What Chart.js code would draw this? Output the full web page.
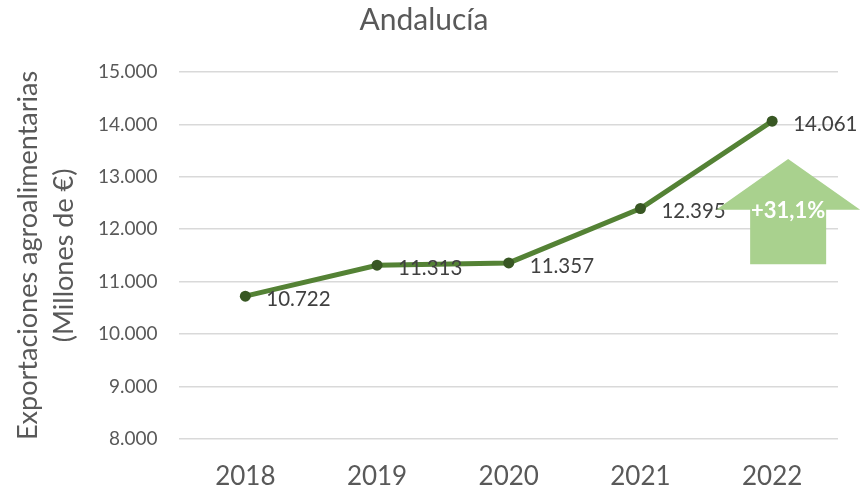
<!DOCTYPE html>
<html>
<head>
<meta charset="utf-8">
<script src="https://cdn.jsdelivr.net/npm/chart.js@4/dist/chart.umd.min.js"></script>
<style>
  html, body { margin: 0; padding: 0; background: #fff; }
  #wrap { width: 867px; height: 492px; }
</style>
</head>
<body>
<div id="wrap"><canvas id="chart"></canvas></div>
<script>
"use strict";

// Data
const YEARS = ["2018", "2019", "2020", "2021", "2022"];
const EXPORTS = [10722, 11313, 11357, 12395, 14061];
const Y_TICKS = [8000, 9000, 10000, 11000, 12000, 13000, 14000, 15000];
const GROWTH_LABEL = "+31,1%";

const FONT = "Lato, 'Open Sans', sans-serif";

function fmt(n) {
    return String(n).replace(/\B(?=(\d{3})+(?!\d))/g, ".");
}

// Labels to the right of each point
const pointLabels = {
    id: "pointLabels",
    afterDatasetsDraw(chart) {
        const ctx = chart.ctx;
        const meta = chart.getDatasetMeta(0);
        ctx.save();
        ctx.font = "20.5px " + FONT;
        ctx.fillStyle = "#404040";
        ctx.textAlign = "left";
        ctx.textBaseline = "middle";
        meta.data.forEach(function(pt, i) {
            ctx.fillText(fmt(EXPORTS[i]), pt.x + 21, pt.y + 3);
        });
        ctx.restore();
    }
};

// Big green arrow with growth text
const growthArrow = {
    id: "growthArrow",
    afterDraw(chart) {
        const ctx = chart.ctx;
        const xs = chart.scales.x;
        const ys = chart.scales.y;
        const cx = xs.getPixelForValue(YEARS.length - 1) + 16;
        const tip = ys.getPixelForValue(13340);
        const base = ys.getPixelForValue(12370);
        const bottom = ys.getPixelForValue(11330);
        ctx.save();
        ctx.fillStyle = "#a9d18e";
        ctx.beginPath();
        ctx.moveTo(cx, tip);
        ctx.lineTo(cx + 72, base);
        ctx.lineTo(cx + 38, base);
        ctx.lineTo(cx + 38, bottom);
        ctx.lineTo(cx - 38, bottom);
        ctx.lineTo(cx - 38, base);
        ctx.lineTo(cx - 72, base);
        ctx.closePath();
        ctx.fill();
        ctx.font = "bold 22px " + FONT;
        ctx.fillStyle = "#ffffff";
        ctx.textAlign = "center";
        ctx.textBaseline = "middle";
        ctx.fillText(GROWTH_LABEL, cx, base + 1);
        ctx.restore();
    }
};

let ctxLine = document.getElementById("chart").getContext("2d");

let exportsChart = new Chart(ctxLine, {
    type: "line",
    data: {
        labels: YEARS,
        datasets: [{
            data: EXPORTS,
            borderColor: "#548235",
            borderWidth: 5,
            pointRadius: 5.5,
            pointBackgroundColor: "#385723",
            pointBorderColor: "#385723",
            pointBorderWidth: 0,
            tension: 0
        }]
    },
    options: {
        responsive: true,
        maintainAspectRatio: false,
        animation: false,
        layout: { padding: { left: 10, right: 29, top: 0, bottom: -22 } },
        plugins: {
            legend: { display: false },
            tooltip: { enabled: false },
            title: {
                display: true,
                text: "Andalucía",
                color: "#595959",
                font: { family: FONT, size: 30, weight: "normal" },
                padding: { top: 2, bottom: 34 }
            }
        },
        scales: {
            x: {
                offset: true,
                grid: { display: false, drawTicks: false },
                border: { display: false },
                ticks: {
                    color: "#595959",
                    font: { family: FONT, size: 26 },
                    padding: 22
                }
            },
            y: {
                min: 8000,
                max: 15000,
                afterBuildTicks: function(axis) {
                    axis.ticks = Y_TICKS.map(function(v) { return { value: v }; });
                },
                grid: { color: "#d9d9d9", lineWidth: 1.5, drawTicks: false },
                border: { display: false },
                ticks: {
                    color: "#595959",
                    font: { family: FONT, size: 19 },
                    padding: 22,
                    callback: function(v) { return fmt(v); }
                },
                title: {
                    display: true,
                    text: ["Exportaciones agroalimentarias", "(Millones de €)"],
                    color: "#595959",
                    font: { family: FONT, size: 27, lineHeight: 1.35 },
                    padding: { top: 0, bottom: -7 }
                }
            }
        }
    },
    plugins: [pointLabels, growthArrow]
});
</script>
</body>
</html>
